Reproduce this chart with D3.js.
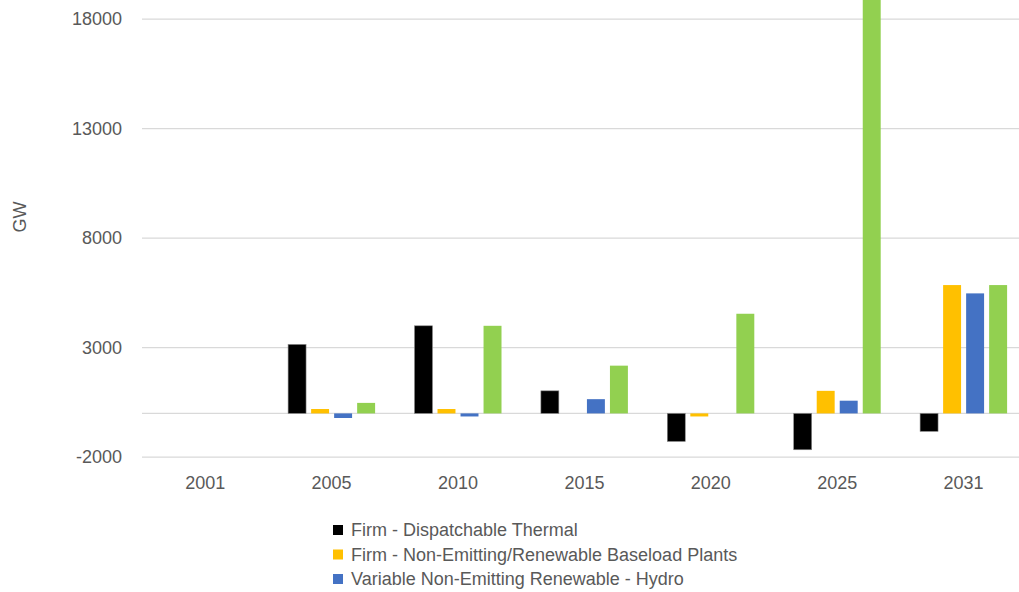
<!DOCTYPE html>
<html>
<head>
<meta charset="utf-8">
<script src="https://cdn.jsdelivr.net/npm/d3@7"></script>
<style>
  body { margin: 0; background: #fff; }
  svg { display: block; font-family: "Liberation Sans", Arial, sans-serif; }
  .grid line { stroke: #d9d9d9; stroke-width: 1.3; }
  text { fill: #595959; }
</style>
</head>
<body>
<div id="chart"></div>
<script>
// data
const years = ["2001", "2005", "2010", "2015", "2020", "2025", "2031"];
const seriesNames = [
  "Firm - Dispatchable Thermal",
  "Firm - Non-Emitting/Renewable Baseload Plants",
  "Variable Non-Emitting Renewable - Hydro"
];
const thermal   = [0, 3150, 4000, 1030, -1280, -1660, -820];
const baseload  = [0, 200, 200, 0, -140, 1030, 5860];
const hydro     = [0, -210, -140, 650, 0, 580, 5480];
const otherRen  = [0, 480, 4000, 2180, 4550, 20500, 5860]; // green series, legend entry cut off
const yTicks = [-2000, 3000, 8000, 13000, 18000];
const colors = ["#000000", "#ffc000", "#4472c4", "#92d050"];

const seriesValues = [thermal, baseload, hydro, otherRen];

const width = 1019, height = 592;

const svg = d3.select('#chart').append('svg')
  .attr('width', width)
  .attr('height', height);

const x0 = d3.scaleBand()
  .domain(years)
  .range([142, 142 + 126.4 * years.length])
  .padding(0);

const x1 = d3.scaleBand()
  .domain(d3.range(seriesValues.length))
  .range([0, 87])
  .paddingInner(0.22)
  .paddingOuter(0);

const y = d3.scaleLinear()
  .domain([-2000, 18000])
  .range([457.2, 19.2]);

// gridlines + zero line
svg.append('g').attr('class', 'grid')
  .selectAll('line')
  .data(yTicks.concat([0]))
  .enter().append('line')
  .attr('x1', 142).attr('x2', width)
  .attr('y1', d => y(d)).attr('y2', d => y(d));

// y axis labels
const yAxis = d3.axisLeft(y).tickValues(yTicks).tickSize(0).tickPadding(0)
  .tickFormat(d => String(d));
const yAxisGroup = svg.append('g')
  .attr('transform', 'translate(122,0)')
  .call(yAxis);
yAxisGroup.select('.domain').remove();
yAxisGroup.selectAll('text')
  .attr('fill', '#595959')
  .style('font-size', '18px')
  .style('font-family', '"Liberation Sans", Arial, sans-serif');

// x axis labels
const xAxis = d3.axisBottom(x0).tickSize(0).tickPadding(0);
const xAxisGroup = svg.append('g')
  .attr('transform', 'translate(0,476)')
  .call(xAxis);
xAxisGroup.select('.domain').remove();
xAxisGroup.selectAll('text')
  .attr('fill', '#595959')
  .style('font-size', '18px')
  .style('font-family', '"Liberation Sans", Arial, sans-serif');

// bars
const groups = svg.append('g').selectAll('g')
  .data(years)
  .enter().append('g')
  .attr('transform', d => `translate(${x0(d) + x0.bandwidth() / 2 - 43.5},0)`);

groups.selectAll('rect')
  .data((d, i) => seriesValues.map((s, k) => ({ k: k, v: s[i] })))
  .enter().append('rect')
  .filter(d => d.v !== 0)
  .attr('x', d => x1(d.k))
  .attr('width', x1.bandwidth())
  .attr('y', d => Math.min(y(d.v), y(0)))
  .attr('height', d => Math.abs(y(d.v) - y(0)))
  .attr('fill', d => colors[d.k])
  .attr('stroke', d => d.k === 0 ? '#888' : 'none')
  .attr('stroke-width', 0.6);

// y axis title
svg.append('text')
  .attr('transform', 'translate(26,217) rotate(-90)')
  .attr('text-anchor', 'middle')
  .style('font-size', '18px')
  .text('GW');

// legend
const legend = svg.append('g').selectAll('g')
  .data(seriesNames)
  .enter().append('g')
  .attr('transform', (d, i) => `translate(333,${530 + i * 24.5})`);

legend.append('rect')
  .attr('x', 0).attr('y', -5)
  .attr('width', 10).attr('height', 10)
  .attr('fill', (d, i) => colors[i]);

legend.append('text')
  .attr('x', 18).attr('dy', '0.35em')
  .style('font-size', '18px')
  .text(d => d);
</script>
</body>
</html>
